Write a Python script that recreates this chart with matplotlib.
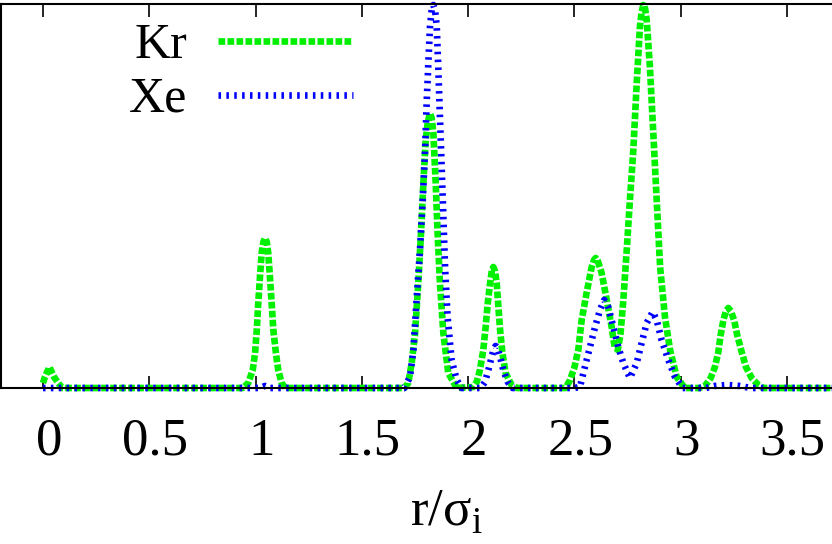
import matplotlib
matplotlib.use('Agg')
import matplotlib.pyplot as plt
from matplotlib.transforms import ScaledTranslation

# r / sigma_i grid and g(r) for each gas (arbitrary units)
kr_r = [0.000, 0.009, 0.030, 0.052, 0.072, 0.090,
        0.940, 0.966, 0.987, 0.998, 1.006, 1.013, 1.021, 1.029, 1.037, 1.045, 1.053, 1.060,
        1.068, 1.076, 1.084, 1.096, 1.107, 1.123, 1.140,
        1.700, 1.719, 1.735, 1.751, 1.766, 1.779, 1.790, 1.801, 1.811, 1.821, 1.829, 1.837,
        1.848, 1.857, 1.868, 1.884, 1.907, 1.947,
        2.025, 2.041, 2.056, 2.072, 2.083, 2.093, 2.104, 2.112, 2.119, 2.127, 2.135, 2.143,
        2.151, 2.162, 2.177, 2.205, 2.230,
        2.460, 2.480, 2.500, 2.519, 2.535, 2.558, 2.582, 2.593, 2.601, 2.611, 2.629, 2.653,
        2.676, 2.690, 2.705, 2.718, 2.731, 2.747, 2.762, 2.778, 2.794, 2.809, 2.817, 2.825,
        2.833, 2.841, 2.856, 2.872, 2.888, 2.904, 2.927, 2.951, 2.982, 3.020,
        3.090, 3.115, 3.142, 3.162, 3.178, 3.189, 3.202, 3.214, 3.225, 3.237, 3.252, 3.267,
        3.288, 3.308, 3.335, 3.366, 3.390, 3.720]
kr_g = [0.05, 0.11, 0.21, 0.11, 0.05, 0.00,
        0.00, 0.05, 0.18, 0.35, 0.58, 0.85, 1.11, 1.35, 1.46, 1.50, 1.46, 1.35,
        1.11, 0.85, 0.58, 0.35, 0.18, 0.05, 0.00,
        0.00, 0.05, 0.25, 0.55, 1.05, 1.55, 2.05, 2.48, 2.66, 2.75, 2.70, 2.55,
        2.05, 1.55, 1.05, 0.55, 0.15, 0.00,
        0.01, 0.06, 0.18, 0.38, 0.61, 0.85, 1.05, 1.17, 1.21, 1.17, 1.05, 0.81,
        0.58, 0.35, 0.15, 0.03, 0.00,
        0.00, 0.08, 0.20, 0.38, 0.68, 0.95, 1.21, 1.28, 1.30, 1.27, 1.15, 0.88,
        0.61, 0.41, 0.38, 0.55, 0.88, 1.38, 1.88, 2.38, 3.05, 3.61, 3.76, 3.83,
        3.80, 3.68, 3.21, 2.55, 1.88, 1.21, 0.71, 0.38, 0.11, 0.00,
        0.00, 0.02, 0.10, 0.21, 0.36, 0.53, 0.68, 0.77, 0.80, 0.77, 0.68, 0.53,
        0.36, 0.21, 0.10, 0.03, 0.00, 0.00]

xe_r = [0.000, 1.020, 1.045, 1.070,
        1.700, 1.727, 1.743, 1.758, 1.774, 1.787, 1.798, 1.806, 1.814, 1.821, 1.829, 1.837,
        1.845, 1.853, 1.860, 1.868, 1.876, 1.884, 1.892, 1.904, 1.923, 1.947, 1.970,
        2.060, 2.080, 2.096, 2.111, 2.121, 2.130, 2.140, 2.151, 2.166, 2.187, 2.210,
        2.500, 2.527, 2.550, 2.574, 2.598, 2.621, 2.641, 2.660, 2.684, 2.707, 2.731, 2.762,
        2.794, 2.817, 2.841, 2.869, 2.888, 2.911, 2.943, 2.974, 3.010,
        3.120, 3.160, 3.220, 3.280, 3.330, 3.720]
xe_g = [0.00, 0.00, 0.02, 0.00,
        0.00, 0.11, 0.38, 0.88, 1.38, 1.88, 2.38, 2.88, 3.28, 3.61, 3.78, 3.83,
        3.78, 3.61, 3.21, 2.71, 2.21, 1.71, 1.21, 0.71, 0.28, 0.08, 0.00,
        0.00, 0.06, 0.18, 0.31, 0.39, 0.42, 0.39, 0.31, 0.18, 0.06, 0.00,
        0.00, 0.01, 0.21, 0.41, 0.61, 0.78, 0.88, 0.81, 0.61, 0.41, 0.25, 0.10,
        0.25, 0.45, 0.65, 0.76, 0.68, 0.48, 0.28, 0.11, 0.00,
        0.00, 0.02, 0.03, 0.02, 0.00, 0.00]

xticks = [0, 0.5, 1, 1.5, 2, 2.5, 3, 3.5]
xtick_labels = ['0', '0.5', '1', '1.5', '2', '2.5', '3', '3.5']

plt.rcParams['font.family'] = ['Liberation Serif', 'DejaVu Serif']
plt.rcParams['mathtext.fontset'] = 'custom'
plt.rcParams['mathtext.rm'] = 'Liberation Serif'

W, H = 832, 544
fig = plt.figure(figsize=(W / 100, H / 100), dpi=100)
# axes run past the right edge of the picture, like the cropped original
ax = fig.add_axes([0.5 / W, (H - 388) / H, 850 / W, 384 / H])

ax.plot(kr_r, kr_g, color='#00f000', lw=4.8, dashes=(1.0, 0.35),
        clip_on=False, label='Kr')
ax.plot(xe_r, xe_g, color='#0000ff', lw=4.8, dashes=(0.38, 0.8),
        clip_on=False, label='Xe')

ax.set_xlim(-0.2, 3.8)
ax.set_ylim(0, 3.84)
ax.set_xticks(xticks)
ax.set_xticklabels(xtick_labels)
ax.set_yticks([])
ax.tick_params(axis='x', direction='in', length=9, width=1.2, top=True,
               labelsize=38, pad=21.5)
# gnuplot put the numbers a few pixels right of their ticks
shift = ScaledTranslation(6 / 100, 0, fig.dpi_scale_trans)
for lab in ax.get_xticklabels():
    lab.set_transform(lab.get_transform() + shift)
for s in ax.spines.values():
    s.set_linewidth(1.5)

ax.set_xlabel(r'r/σ$_{\rm i}$', fontsize=38)
ax.xaxis.label.set_va('baseline')
ax.xaxis.set_label_coords((446 - 0.5) / 850, -(525 - 388) / 384)

leg = ax.legend(loc='upper right', bbox_to_anchor=(353 / W, (H - 23) / H),
                bbox_transform=fig.transFigure, frameon=False, markerfirst=False,
                fontsize=36, handlelength=2.7, handletextpad=0.62,
                labelspacing=0.14, borderpad=0, borderaxespad=0)

fig.savefig('out.png', dpi=100)
